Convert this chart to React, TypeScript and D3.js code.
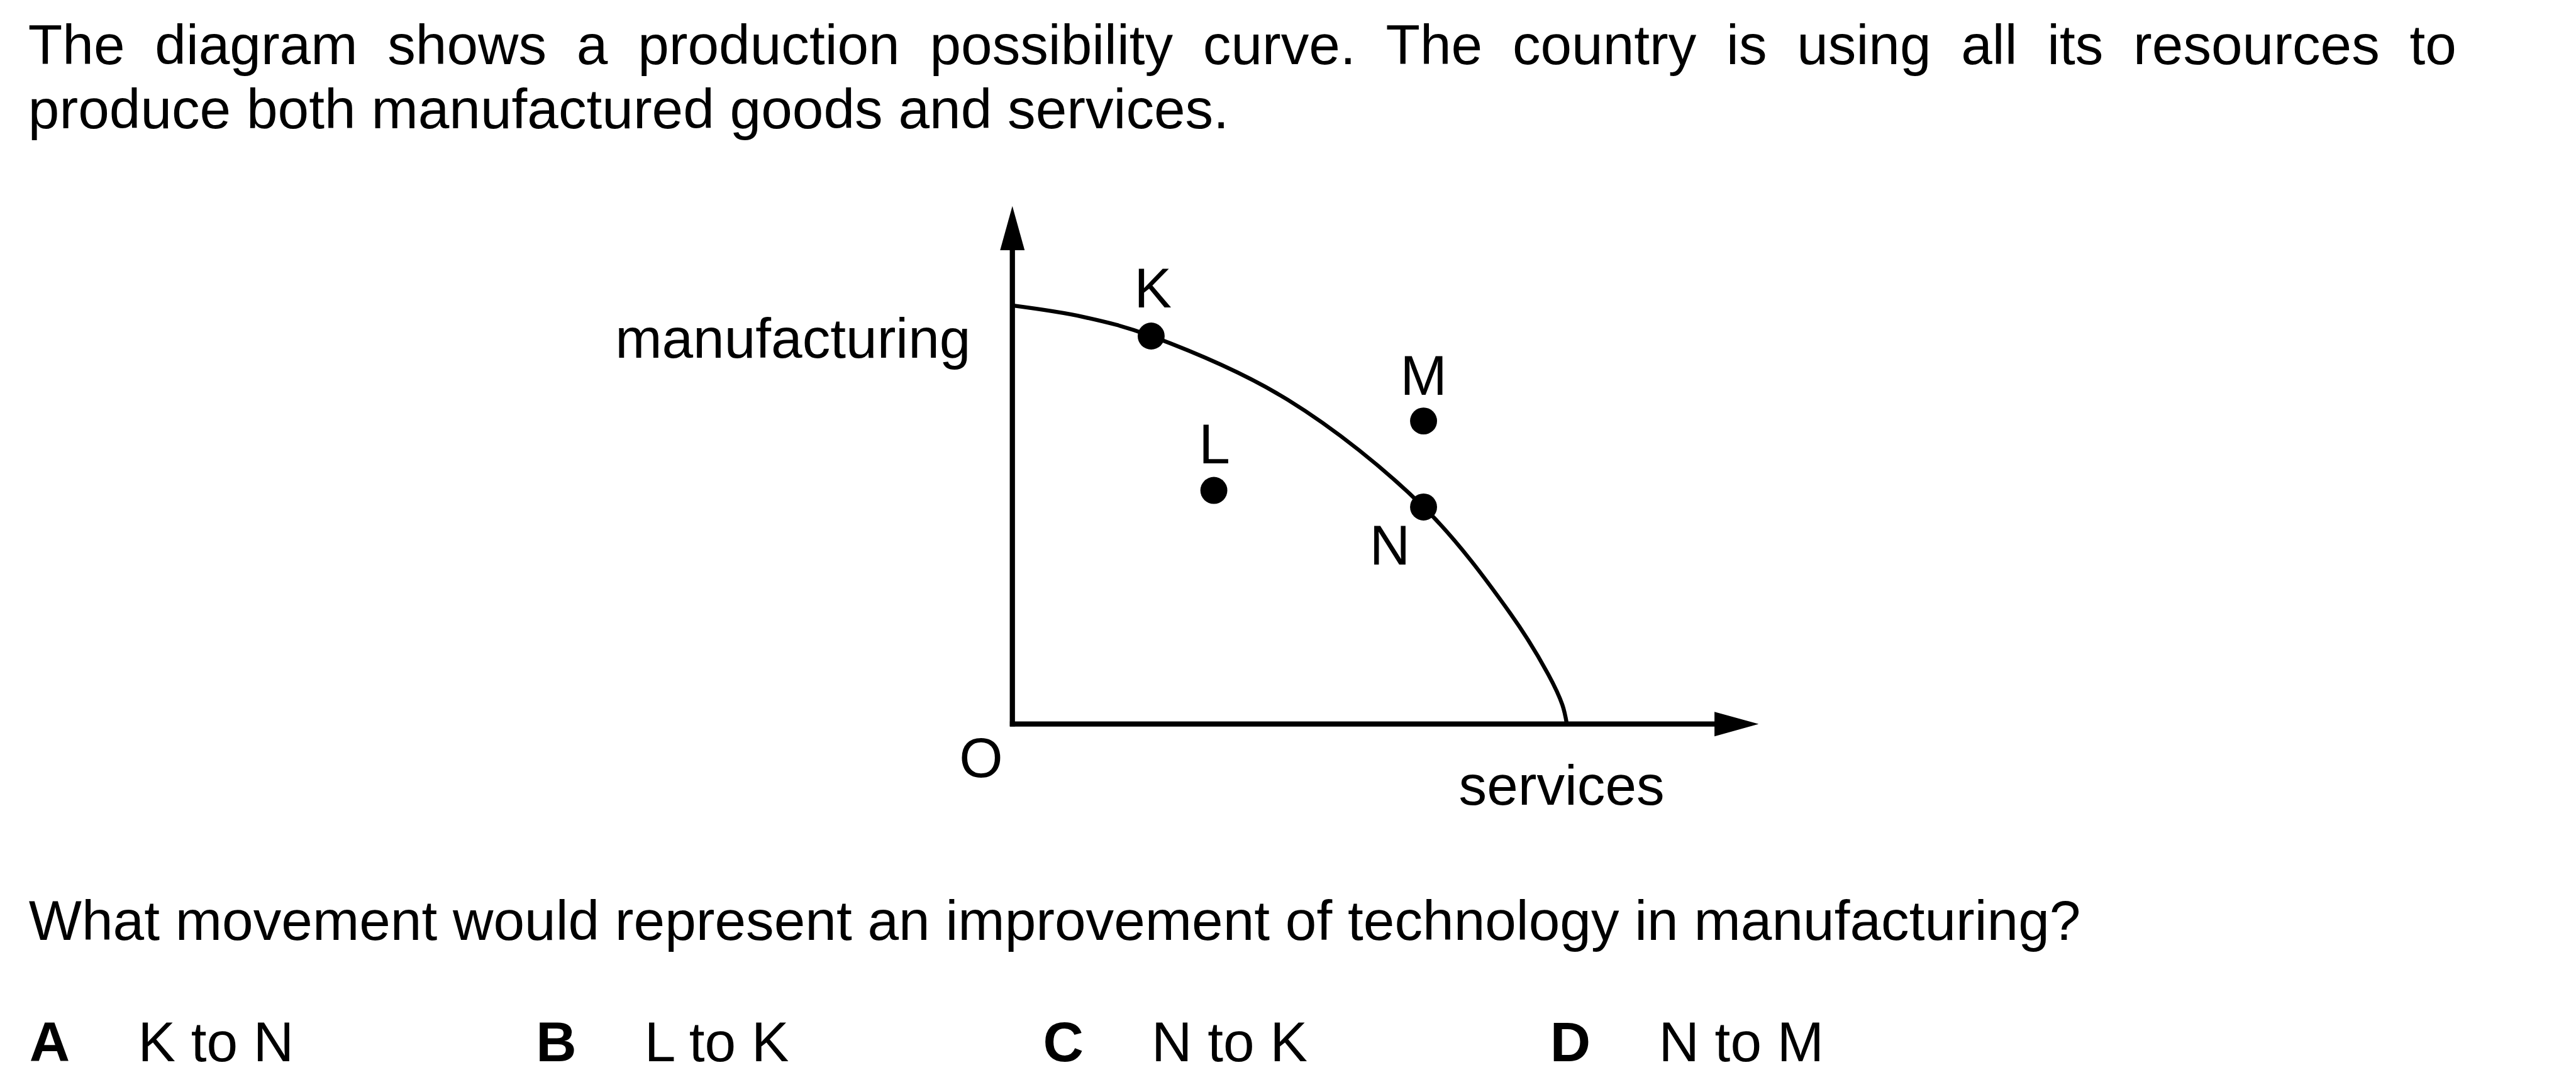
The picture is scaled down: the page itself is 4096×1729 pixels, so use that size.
import { useEffect, useRef } from "react";
import * as d3 from "d3";

// production possibility curve: services (x) vs manufacturing (y), 0-100 on each axis
const curveServices = [0, 9.5, 18.6, 36.9, 55.1, 66.7, 71.8, 73.7, 74.3];
const curveManufacturing = [80.8, 78.6, 74.9, 62.6, 41.9, 21.4, 9.6, 3.7, 0];

const pointNames = ["K", "L", "M", "N"];
const pointServices = [18.6, 27.0, 55.1, 55.1];
const pointManufacturing = [74.9, 45.1, 58.5, 41.9];

const introLines = [
  "The diagram shows a production possibility curve. The country is using all its resources to",
  "produce both manufactured goods and services.",
];
const questionText = "What movement would represent an improvement of technology in manufacturing?";
const optionLetters = ["A", "B", "C", "D"];
const optionTexts = ["K to N", "L to K", "N to K", "N to M"];

// layout (reference pixels, the viewBox scales it to the window)
const W = 4201;
const H = 1773;
const FONT = "'Liberation Sans', Arial, sans-serif";
const FS = 91.5;
const labelOffsets = [
  [3, -47],
  [1, -44],
  [0, -43],
  [-55, 94],
];

const App = () => {
  const svgRef = useRef(null);

  useEffect(() => {
    const svg = d3.select(svgRef.current);
    svg.selectAll("*").remove();

    const x = d3.scaleLinear().domain([0, 100]).range([1651, 2868]);
    const y = d3.scaleLinear().domain([0, 100]).range([1181, 336]);

    const g = svg.append("g").attr("font-family", FONT).attr("font-size", FS).attr("fill", "#000");

    // intro text, first line justified
    const lineStart = 46;
    const lineEnd = 4006;
    const words = introLines[0].split(" ");
    const wordNodes = words.map((w) => g.append("text").attr("y", 104).text(w));
    const widths = wordNodes.map((t) => (t.node() as SVGTextElement).getComputedTextLength());
    const gap = (lineEnd - lineStart - d3.sum(widths)) / (words.length - 1);
    let cx = lineStart;
    wordNodes.forEach((t, i) => {
      t.attr("x", cx);
      cx += widths[i] + gap;
    });
    g.append("text").attr("x", lineStart).attr("y", 209).text(introLines[1]);

    // axes
    const x0 = x(0);
    const y0 = y(0);
    const head = 72;
    const half = 20;
    g.append("line")
      .attr("x1", x0)
      .attr("x2", x0)
      .attr("y1", y0 + 4)
      .attr("y2", y(100) + head - 2)
      .attr("stroke", "#000")
      .attr("stroke-width", 8.5);
    g.append("line")
      .attr("x1", x0 - 4)
      .attr("x2", x(100) - head + 2)
      .attr("y1", y0)
      .attr("y2", y0)
      .attr("stroke", "#000")
      .attr("stroke-width", 8.5);
    g.append("path")
      .attr("d", `M${x0},${y(100)}L${x0 + half},${y(100) + head}L${x0 - half},${y(100) + head}Z`)
      .attr("fill", "#000");
    g.append("path")
      .attr("d", `M${x(100)},${y0}L${x(100) - head},${y0 - half}L${x(100) - head},${y0 + half}Z`)
      .attr("fill", "#000");

    // the curve
    const pts = curveServices.map((s, i) => [s, curveManufacturing[i]]);
    const line = d3
      .line()
      .x((d) => x(d[0]))
      .y((d) => y(d[1]))
      .curve(d3.curveCatmullRom.alpha(0.5));
    g.append("path")
      .attr("d", line(pts as [number, number][]))
      .attr("fill", "none")
      .attr("stroke", "#000")
      .attr("stroke-width", 6.5);

    // points + labels
    pointNames.forEach((name, i) => {
      const px = x(pointServices[i]);
      const py = y(pointManufacturing[i]);
      g.append("circle").attr("cx", px).attr("cy", py).attr("r", 22).attr("fill", "#000");
      g.append("text")
        .attr("x", px + labelOffsets[i][0])
        .attr("y", py + labelOffsets[i][1])
        .attr("text-anchor", "middle")
        .text(name);
    });

    // axis labels
    g.append("text").attr("x", x0 - 68).attr("y", 583).attr("text-anchor", "end").text("manufacturing");
    g.append("text").attr("x", x0 - 51).attr("y", y0 + 87).attr("text-anchor", "middle").text("O");
    g.append("text").attr("x", 2379).attr("y", y0 + 132).text("services");

    // question and options
    g.append("text").attr("x", 47).attr("y", 1533).text(questionText);
    const letterX = [48, 874, 1701, 2528];
    optionLetters.forEach((l, i) => {
      g.append("text").attr("x", letterX[i]).attr("y", 1731).attr("font-weight", "bold").text(l);
      g.append("text").attr("x", letterX[i] + 177).attr("y", 1731).text(optionTexts[i]);
    });
  }, []);

  return (
    <svg
      ref={svgRef}
      width={4096}
      height={1729}
      viewBox={`0 0 ${W} ${H}`}
      style={{ position: "absolute", left: 0, top: 0, background: "#fff" }}
    ></svg>
  );
};

export default App;
